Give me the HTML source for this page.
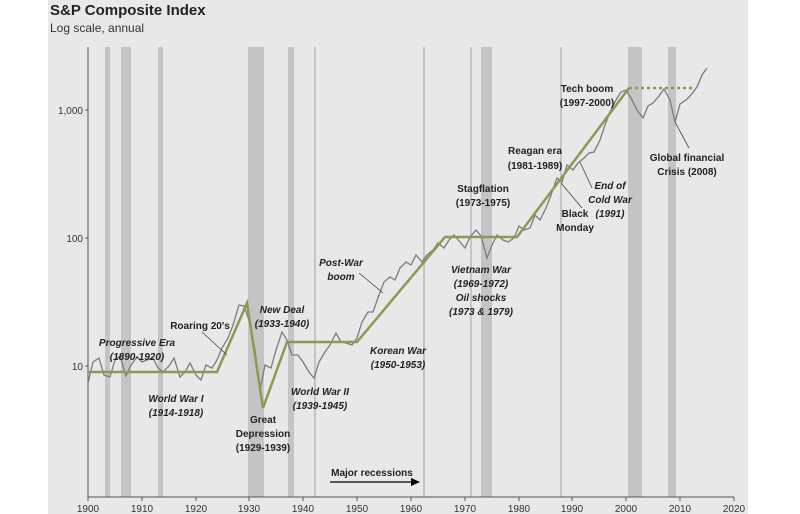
<!DOCTYPE html>
<html><head><meta charset="utf-8"><style>
body{margin:0;background:#fff}
svg{display:block;font-family:"Liberation Sans",sans-serif}
</style></head><body>
<svg width="800" height="514" viewBox="0 0 800 514">
<rect x="48" y="0" width="700" height="514" fill="#e8e8e8"/>
<text x="50" y="15" font-size="15" font-weight="bold" fill="#222">S&amp;P Composite Index</text>
<text x="50" y="32" font-size="12" fill="#333">Log scale, annual</text>
<g fill="#c4c4c6">
<rect x="105" y="47" width="5" height="450"/>
<rect x="121" y="47" width="10" height="450"/>
<rect x="158" y="47" width="5" height="450"/>
<rect x="248" y="47" width="16" height="450"/>
<rect x="288" y="47" width="6" height="450"/>
<rect x="314" y="47" width="2" height="450"/>
<rect x="423" y="47" width="2" height="450"/>
<rect x="470" y="47" width="2" height="450"/>
<rect x="481" y="47" width="11" height="450"/>
<rect x="560" y="47" width="2" height="450"/>
<rect x="628" y="47" width="14" height="450"/>
<rect x="668" y="47" width="8" height="450"/>
</g>
<g stroke="#555" stroke-width="1" fill="none">
<line x1="88" y1="47" x2="88" y2="497"/>
<line x1="88" y1="497" x2="734" y2="497"/>
<line x1="85" y1="110" x2="88" y2="110"/><line x1="85" y1="238" x2="88" y2="238"/><line x1="85" y1="366" x2="88" y2="366"/>
<path d="M88 497v4M142 497v4M196 497v4M249 497v4M303 497v4M357 497v4M411 497v4M465 497v4M519 497v4M572 497v4M626 497v4M680 497v4M734 497v4"/>
</g>
<g font-size="10" fill="#333" text-anchor="end">
<text x="83" y="114">1,000</text><text x="83" y="242">100</text><text x="83" y="370">10</text>
</g>
<g font-size="10" fill="#333" text-anchor="middle">
<text x="88" y="512">1900</text><text x="142" y="512">1910</text><text x="196" y="512">1920</text><text x="249" y="512">1930</text><text x="303" y="512">1940</text><text x="357" y="512">1950</text><text x="411" y="512">1960</text><text x="465" y="512">1970</text><text x="519" y="512">1980</text><text x="572" y="512">1990</text><text x="626" y="512">2000</text><text x="680" y="512">2010</text><text x="734" y="512">2020</text>
</g>
<polyline fill="none" stroke="#7a7a80" stroke-width="1.3" points="88,383 93,362 99,358 104,375 110,377 115,360 120,356 126,376 131,365 137,357 142,362 147,360 153,358 158,368 163,372 169,366 174,358 180,377 185,372 190,363 196,375 201,380 206,365 212,368 217,360 222,348 228,338 233,325 239,305 244,306 249,320 255,350 260,390 265,365 271,368 276,350 282,332 287,340 292,355 298,355 303,362 309,372 314,378 319,362 325,352 330,345 336,333 341,342 346,343 352,345 357,338 362,322 368,312 373,312 379,295 384,282 390,277 395,280 400,268 406,262 411,265 416,255 422,262 427,255 433,250 438,243 444,248 449,240 454,235 460,242 465,248 470,237 476,230 481,236 487,258 492,245 497,235 503,240 508,242 514,238 519,226 524,230 530,228 535,215 540,220 546,208 551,195 557,178 562,182 567,165 573,170 578,163 584,158 589,153 594,152 600,140 605,125 610,112 616,100 621,92 626,90 632,100 637,110 643,118 648,106 653,103 659,96 664,89 670,100 675,122 680,104 686,100 691,95 697,87 702,75 707,68"/>
<g stroke="#8a9a50" stroke-width="2.5" fill="none">
<polyline points="88,372 217,372 247,303 263,408 287,342 357,342 445,237 517,237 629,88"/>
<line x1="629" y1="88" x2="695" y2="88" stroke-dasharray="3,3"/>
</g>
<g stroke="#444" stroke-width="0.8" fill="none">
<line x1="202" y1="332" x2="227" y2="355"/>
<line x1="359" y1="273" x2="383" y2="293"/>
<line x1="561" y1="183" x2="582" y2="208"/>
<line x1="580" y1="162" x2="592" y2="188"/>
<line x1="675" y1="122" x2="689" y2="148"/>
<line x1="330" y1="482" x2="412" y2="482" stroke="#000" stroke-width="1.2"/>
</g>
<polygon points="420,482 411,478 411,486" fill="#000"/>
<g font-size="10" fill="#222" text-anchor="middle">
<g font-style="italic" font-weight="bold">
<text x="137" y="346">Progressive Era</text><text x="137" y="360">(1890-1920)</text>
<text x="282" y="313">New Deal</text><text x="282" y="327">(1933-1940)</text>
<text x="176" y="402">World War I</text><text x="176" y="416">(1914-1918)</text>
<text x="320" y="395">World War II</text><text x="320" y="409">(1939-1945)</text>
<text x="341" y="266">Post-War</text><text x="341" y="280">boom</text>
<text x="398" y="354">Korean War</text><text x="398" y="368">(1950-1953)</text>
<text x="481" y="273">Vietnam War</text><text x="481" y="287">(1969-1972)</text><text x="481" y="301">Oil shocks</text><text x="481" y="315">(1973 &amp; 1979)</text>
<text x="610" y="189">End of</text><text x="610" y="203">Cold War</text><text x="610" y="217">(1991)</text>
</g>
<g font-weight="bold">
<text x="200" y="329">Roaring 20's</text>
<text x="263" y="423">Great</text><text x="263" y="437">Depression</text><text x="263" y="451">(1929-1939)</text>
<text x="483" y="192">Stagflation</text><text x="483" y="206">(1973-1975)</text>
<text x="535" y="154">Reagan era</text><text x="535" y="169">(1981-1989)</text>
<text x="587" y="92">Tech boom</text><text x="587" y="106">(1997-2000)</text>
<text x="575" y="217">Black</text><text x="575" y="231">Monday</text>
<text x="687" y="161">Global financial</text><text x="687" y="175">Crisis (2008)</text>
<text x="372" y="476">Major recessions</text>
</g>
</g>
</svg>
</body></html>
